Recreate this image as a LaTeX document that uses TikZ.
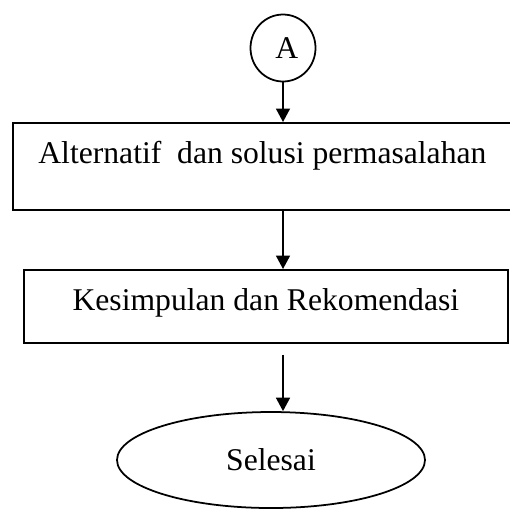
\documentclass[tikz,border=0pt]{standalone}
\usepackage{fontspec}
\setmainfont{Liberation Serif}
\usetikzlibrary{arrows.meta,positioning,shapes.geometric}
\tikzset{
  kotak/.style={draw,line width=1pt,rectangle,inner sep=0pt,align=center},
  lingk/.style={draw,line width=1pt,ellipse,inner sep=0pt,minimum width=1.3cm,minimum height=1.34cm},
  elips/.style={draw,line width=1pt,ellipse,inner sep=0pt,minimum width=6.16cm,minimum height=1.92cm},
  panah/.style={line width=1pt,-{Triangle[length=0.27cm,width=0.28cm]}},
}

\begin{document}
\begin{tikzpicture}[font=\fontsize{18}{22}\selectfont]
  \useasboundingbox (0,0) rectangle (10.2,-10.18);
  \node[lingk] (a) at (5.66,-0.96) {\hspace{0.15cm}A};
  \node[kotak,anchor=north west,minimum width=9.98cm,text height=0.82cm,text depth=0.92cm]
    (alt) at (0.24,-2.44) {Alternatif\ \ dan solusi permasalahan};
  \node[kotak,anchor=north west,minimum width=9.68cm,text height=0.82cm,text depth=0.64cm]
    (kes) at (0.46,-5.38) {Kesimpulan dan Rekomendasi};
  \node[elips] (sel) at (5.42,-9.2) {Selesai};
  \coordinate (p3) at ([yshift=-0.22cm]a.south |- kes.south);
  \draw[panah] (a.south) -- (a.south |- alt.north);
  \draw[panah] (a.south |- alt.south) -- (a.south |- kes.north);
  \draw[panah] (p3) -- (p3 |- sel.north);
\end{tikzpicture}
\end{document}
